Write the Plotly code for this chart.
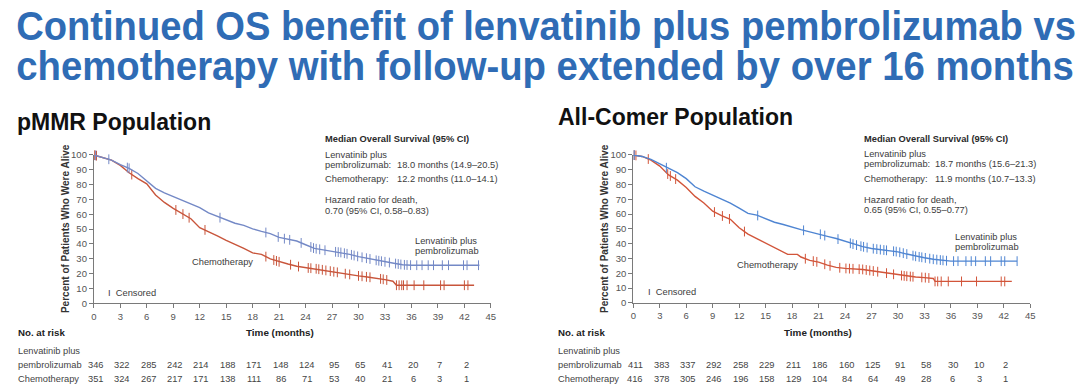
import numpy as np
import plotly.graph_objects as go

W, H = 1080, 389

# ---------------- data ----------------
x_ticks = list(range(0, 46, 3))
y_ticks = list(range(0, 101, 10))

# pMMR population
pmmr_lp_t = [0, 1, 2, 3, 4, 5, 6, 7, 8, 9, 10, 11, 12, 13, 14, 15, 16, 17, 18, 19, 20, 21, 22, 23, 24, 25, 26, 27, 28, 29, 30, 31, 32, 33, 34, 35, 36, 43.7]
pmmr_lp_s = [100, 98.5, 96.5, 93.5, 91, 87.5, 82.5, 77.5, 74.5, 72, 69.5, 67.5, 64.5, 61, 58.5, 56, 54, 52.5, 50.2, 48.5, 47, 44.5, 43, 42, 39.5, 37, 36, 35, 34.3, 33, 31.5, 30.3, 29, 28, 27, 26, 25.7, 25.7]
pmmr_ch_t = [0, 1, 2, 3, 4, 5, 6, 7, 8, 9, 10, 11, 12, 13, 14, 15, 16, 17, 18, 19, 20, 21, 22, 23, 24, 25, 26, 27, 28, 29, 30, 31, 32, 33, 33.9, 34.3, 43.1]
pmmr_ch_s = [100, 98.5, 96.5, 93, 88, 84, 80.5, 73, 68, 64, 60.5, 57, 51, 48.5, 45.5, 42.5, 40, 37, 34, 33, 30, 28, 26.5, 25, 24, 23.5, 22.5, 21.5, 20.5, 19.5, 18.5, 17.8, 17, 16, 14.9, 12.2, 12.2]
pmmr_lp_cens = [0.2, 1.7, 3.8, 4.0, 14.3, 19.5, 20.9, 21.6, 22.2, 23.5, 24.6, 24.9, 25.2, 25.6, 26.2, 27.4, 27.7, 28.0, 28.4, 28.7, 29.2, 29.5, 29.9, 30.4, 30.9, 31.3, 32.0, 32.3, 32.6, 33.0, 33.5, 34.2, 34.5, 34.8, 35.2, 35.5, 35.9, 36.6, 37.2, 37.9, 38.5, 39.5, 40.2, 41.9, 42.3, 43.6]
pmmr_ch_cens = [0.1, 0.3, 4.3, 9.3, 10.1, 10.8, 12.6, 19.5, 20.4, 20.7, 21.0, 22.3, 23.2, 24.3, 24.6, 25.2, 25.5, 25.9, 26.3, 26.8, 27.2, 27.6, 28.5, 29.0, 30.0, 30.4, 30.9, 31.3, 32.5, 32.8, 33.2, 34.3, 34.6, 34.9, 35.1, 35.5, 36.3, 37.4, 39.3, 39.7, 42.0, 42.4]

# All-comer population
all_lp_t = [0, 1, 2, 3, 4, 5, 6, 7, 8, 9, 10, 11, 12, 13, 14, 15, 16, 17, 18, 19, 20, 21, 22, 23, 24, 25, 26, 27, 28, 29, 30, 31, 32, 33, 34, 35, 36, 43.5]
all_lp_s = [100, 99, 97, 94, 90.5, 88, 84, 78.5, 75.5, 73, 70.5, 67.5, 64, 60.5, 59.3, 57, 54.5, 53, 51, 49.5, 48, 46.7, 45, 43.5, 41.5, 39.5, 38, 36.8, 36, 35.3, 34.5, 33, 31.5, 30.5, 29.5, 28.8, 28.2, 28.2]
all_ch_t = [0, 1, 2, 3, 4, 5, 6, 7, 8, 9, 10, 11, 12, 13, 14, 15, 16, 17, 17.5, 18.6, 19, 20, 21, 22, 23, 24, 25, 26, 27, 28, 29, 30, 31, 32, 33, 34, 34.2, 42.9]
all_ch_s = [100, 99, 96.5, 92.5, 86.5, 83, 78, 72, 67.5, 62, 59, 56.5, 50.8, 46.5, 43.5, 40.5, 37.5, 34.5, 32.8, 32.8, 31, 28.7, 27.5, 25.5, 24, 23.3, 23, 22.6, 21.7, 20.8, 19.8, 18.8, 18, 17.5, 17.1, 16.5, 14.5, 14.5]
all_lp_cens = [0.1, 3.75, 14.1, 19.3, 21.2, 21.7, 23.2, 24.6, 24.9, 25.3, 25.8, 26.1, 26.5, 27.2, 27.6, 28.0, 28.4, 28.7, 29.5, 29.8, 30.2, 30.6, 31.0, 31.7, 32.0, 32.4, 32.7, 33.1, 33.6, 34.0, 34.4, 34.8, 35.1, 35.5, 36.3, 36.8, 37.7, 38.3, 38.8, 39.9, 40.5, 41.7, 42.1, 43.5]
all_ch_cens = [0.1, 0.3, 1.7, 3.9, 4.2, 4.8, 9.2, 10.1, 10.9, 12.6, 19.5, 20.4, 20.8, 21.7, 22.3, 23.4, 24.1, 24.5, 24.9, 25.6, 26.0, 26.4, 26.8, 27.2, 27.7, 28.7, 29.5, 30.4, 30.7, 31.0, 31.4, 31.7, 32.7, 33.1, 33.5, 34.2, 34.5, 34.9, 35.7, 37.2, 38.9, 41.7, 42.1]

# Numbers at risk
risk_times = list(range(0, 43, 3))
pmmr_risk_lp = [346, 322, 285, 242, 214, 188, 171, 148, 124, 95, 65, 41, 20, 7, 2]
pmmr_risk_ch = [351, 324, 267, 217, 171, 138, 111, 86, 71, 53, 40, 21, 6, 3, 1]
all_risk_lp = [411, 383, 337, 292, 258, 229, 211, 186, 160, 125, 91, 58, 30, 10, 2]
all_risk_ch = [416, 378, 305, 246, 196, 158, 129, 104, 84, 64, 49, 28, 6, 3, 1]

title_lines = ["Continued OS benefit of lenvatinib plus pembrolizumab vs",
               "chemotherapy with follow-up extended by over 16 months"]

# ---------------- styling ----------------
FONT = "Liberation Sans, Arial, Helvetica, sans-serif"
TXT = "#3c3c3c"
AX = "#7a7a7a"
BLUE_L, RED_L = "#7489c6", "#c8553b"
BLUE_R, RED_R = "#4f85d2", "#d2553a"


def px(x):
    return x / W


def py(y):
    return 1 - y / H


fig = go.Figure()

panels = [
    dict(xa="x", ya="y", lp=(pmmr_lp_t, pmmr_lp_s, pmmr_lp_cens), ch=(pmmr_ch_t, pmmr_ch_s, pmmr_ch_cens), blue=BLUE_L, red=RED_L),
    dict(xa="x2", ya="y2", lp=(all_lp_t, all_lp_s, all_lp_cens), ch=(all_ch_t, all_ch_s, all_ch_cens), blue=BLUE_R, red=RED_R),
]

for p in panels:
    for key, col in (("ch", p["red"]), ("lp", p["blue"])):
        t, s, c = p[key]
        fig.add_trace(go.Scatter(x=t, y=s, mode="lines", xaxis=p["xa"], yaxis=p["ya"],
                                 line=dict(color=col, width=1.4), cliponaxis=False,
                                 showlegend=False, hoverinfo="skip"))
        cy = np.interp(c, t, s)
        fig.add_trace(go.Scatter(x=c, y=cy, mode="markers", xaxis=p["xa"], yaxis=p["ya"],
                                 marker=dict(symbol="line-ns", size=7, line=dict(color=col, width=1)),
                                 cliponaxis=False, showlegend=False, hoverinfo="skip"))

axis_common = dict(showline=True, linecolor=AX, linewidth=1, ticks="outside", ticklen=4,
                   tickcolor=AX, tickwidth=1, showgrid=False, zeroline=False,
                   tickfont=dict(family=FONT, size=9.5, color="#555555"))

fig.update_layout(
    width=W, height=H, margin=dict(l=0, r=0, t=0, b=0),
    paper_bgcolor="white", plot_bgcolor="white", showlegend=False,
    xaxis=dict(domain=[px(91.5), px(491.5)], range=[0, 45], tickvals=x_ticks, anchor="y", **axis_common),
    yaxis=dict(domain=[py(306), py(153.3)], range=[0, 100], tickvals=y_ticks, anchor="x", **axis_common),
    xaxis2=dict(domain=[px(635), px(1035)], range=[0, 45], tickvals=x_ticks, anchor="y2", **axis_common),
    yaxis2=dict(domain=[py(305.5), py(153.3)], range=[0, 100], tickvals=y_ticks, anchor="x2", **axis_common),
)

ann = []


def text(x, y, s, size=9.3, bold=False, color=TXT, xanchor="left", family=FONT, xref="paper"):
    ann.append(dict(x=x if xref != "paper" else px(x), y=py(y), xref=xref, yref="paper",
                    text=f"<b>{s}</b>" if bold else s, showarrow=False,
                    xanchor=xanchor, yanchor="middle",
                    font=dict(family=family, size=size, color=color)))


# Title (condensed look is obtained by a horizontal scale applied after drawing)
for i, line in enumerate(title_lines):
    text(11, 21 + 41 * i, line, size=41, bold=True, color="#2f6cb5")

# Panel titles
text(12, 119, "pMMR Population", size=23, bold=True, color="#111111")
text(557, 114, "All-Comer Population", size=23, bold=True, color="#111111")

# Panel annotations
blocks = [
    dict(x0=322.7, dy=0, xv=395, med=("18.0 months (14.9–20.5)", "12.2 months (11.0–14.1)"),
         hr="0.70 (95% CI, 0.58–0.83)", ytitle=63, lab=(413, 242), chemo=(188, 263.5), cens=(104, 295.5)),
    dict(x0=865, dy=-0.7, xv=937, med=("18.7 months (15.6–21.3)", "11.9 months (10.7–13.3)"),
         hr="0.65 (95% CI, 0.55–0.77)", ytitle=606, lab=(957, 237.5), chemo=(737, 266.5), cens=(647.5, 294.5)),
]
for b in blocks:
    x0, dy = b["x0"], b["dy"]
    text(x0, 137.3 + dy, "Median Overall Survival (95% CI)", bold=True, size=9.3, color="#2a2a2a")
    text(x0, 153 + dy, "Lenvatinib plus")
    text(x0, 163.3 + dy, "pembrolizumab:")
    text(b["xv"], 163.3 + dy, b["med"][0])
    text(x0, 178.5 + dy, "Chemotherapy:")
    text(b["xv"], 178.5 + dy, b["med"][1])
    text(x0, 200 + dy, "Hazard ratio for death,")
    text(x0, 210.5 + dy, b["hr"])
    text(b["lab"][0], b["lab"][1], "Lenvatinib plus")
    text(b["lab"][0], b["lab"][1] + 10.5, "pembrolizumab")
    text(b["chemo"][0], b["chemo"][1], "Chemotherapy")
    text(b["cens"][0], b["cens"][1], "I  Censored")
    # y-axis title
    ann.append(dict(x=px(b["ytitle"]), y=py(229), xref="paper", yref="paper",
                    text="<b>Percent of Patients Who Were Alive</b>", textangle=-90,
                    showarrow=False, xanchor="center", yanchor="middle",
                    font=dict(family=FONT, size=10, color="#333333")))

# Risk tables
tables = [
    dict(xl=13, xt=279, xref="x", lp=pmmr_risk_lp, ch=pmmr_risk_ch),
    dict(xl=557, xt=821, xref="x2", lp=all_risk_lp, ch=all_risk_ch),
]
for tb in tables:
    text(tb["xl"], 336.5, "No. at risk", bold=True, size=9.7, color="#222222")
    text(tb["xt"], 336.5, "Time (months)", bold=True, size=9.9, color="#222222", xanchor="center")
    text(tb["xl"], 355.5, "Lenvatinib plus", color="#444444")
    text(tb["xl"], 369, "pembrolizumab", color="#444444")
    text(tb["xl"], 383.5, "Chemotherapy", color="#444444")
    for t, n1, n2 in zip(risk_times, tb["lp"], tb["ch"]):
        text(t + 0.2, 369, str(n1), color="#444444", xanchor="center", xref=tb["xref"])
        text(t + 0.2, 383.5, str(n2), color="#444444", xanchor="center", xref=tb["xref"])

fig.update_layout(annotations=ann)

post = """
document.body.style.margin='0';document.body.style.overflow='hidden';
var targets = {'Continued OS': 1060, 'chemotherapy with': 1058};
document.querySelectorAll('text.annotation-text').forEach(function(t){
  var s = t.textContent;
  Object.keys(targets).forEach(function(k){
    if (s.indexOf(k) === 0) {
      var bb = t.getBBox();
      var sx = targets[k] / bb.width;
      var old = t.getAttribute('transform') || '';
      t.setAttribute('transform', old + ' translate(' + (bb.x * (1 - sx)) + ',0) scale(' + sx + ',1)');
    }
  });
});
"""

fig.write_html("out.html", config={"displayModeBar": False}, post_script=post)
